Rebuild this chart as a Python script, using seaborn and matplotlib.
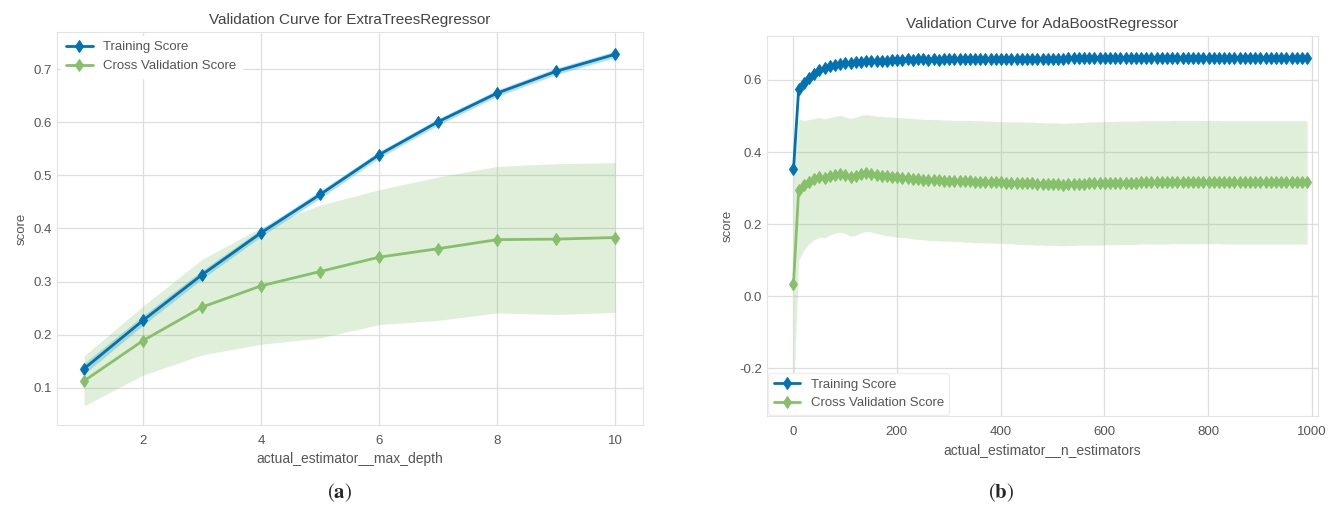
import numpy as np
import pandas as pd
import seaborn as sns
import matplotlib.pyplot as plt

# ---- (a) ExtraTreesRegressor, max_depth ----
depth = [1, 2, 3, 4, 5, 6, 7, 8, 9, 10]
et_train = [0.136, 0.227, 0.313, 0.392, 0.464, 0.539, 0.601, 0.655, 0.696, 0.728]
et_train_sd = [0.010, 0.009, 0.008, 0.007, 0.007, 0.006, 0.006, 0.006, 0.006, 0.006]
et_cv = [0.113, 0.189, 0.252, 0.292, 0.319, 0.346, 0.362, 0.379, 0.380, 0.383]
et_cv_sd = [0.047, 0.065, 0.090, 0.110, 0.125, 0.127, 0.135, 0.138, 0.142, 0.141]

# ---- (b) AdaBoostRegressor, n_estimators ----
n_est = np.arange(1, 1000, 10)
ada_train = [
    0.352, 0.575, 0.592, 0.606, 0.618, 0.627, 0.633, 0.638, 0.642, 0.645,
    0.647, 0.648, 0.650, 0.651, 0.652, 0.652, 0.653, 0.654, 0.654, 0.655,
    0.656, 0.656, 0.657, 0.656, 0.657, 0.657, 0.656, 0.657, 0.656, 0.657,
    0.657, 0.657, 0.658, 0.657, 0.657, 0.658, 0.658, 0.657, 0.658, 0.658,
    0.658, 0.657, 0.658, 0.658, 0.658, 0.658, 0.657, 0.658, 0.658, 0.658,
    0.659, 0.659, 0.659, 0.660, 0.660, 0.660, 0.660, 0.660, 0.661, 0.661,
    0.661, 0.661, 0.661, 0.661, 0.661, 0.661, 0.661, 0.661, 0.661, 0.661,
    0.661, 0.661, 0.661, 0.661, 0.661, 0.661, 0.662, 0.662, 0.662, 0.662,
    0.662, 0.662, 0.662, 0.662, 0.662, 0.662, 0.662, 0.662, 0.662, 0.662,
    0.662, 0.662, 0.662, 0.662, 0.662, 0.662, 0.662, 0.662, 0.662, 0.662,
]
ada_train_sd = [0.015] + [0.006] * 99
ada_cv = [
    0.035, 0.296, 0.308, 0.318, 0.325, 0.330, 0.327, 0.333, 0.337, 0.340,
    0.336, 0.330, 0.333, 0.339, 0.342, 0.340, 0.337, 0.335, 0.333, 0.332,
    0.330, 0.329, 0.328, 0.326, 0.325, 0.324, 0.323, 0.322, 0.322, 0.321,
    0.321, 0.320, 0.320, 0.319, 0.319, 0.318, 0.318, 0.317, 0.317, 0.316,
    0.316, 0.315, 0.315, 0.314, 0.314, 0.313, 0.313, 0.312, 0.312, 0.311,
    0.311, 0.311, 0.310, 0.311, 0.311, 0.312, 0.312, 0.313, 0.313, 0.313,
    0.314, 0.314, 0.314, 0.315, 0.315, 0.315, 0.315, 0.316, 0.316, 0.316,
    0.316, 0.316, 0.316, 0.317, 0.317, 0.317, 0.317, 0.317, 0.317, 0.317,
    0.317, 0.317, 0.317, 0.316, 0.316, 0.316, 0.316, 0.316, 0.316, 0.316,
    0.316, 0.316, 0.316, 0.316, 0.316, 0.316, 0.316, 0.316, 0.316, 0.316,
]
ada_cv_sd = [
    0.319, 0.195, 0.180, 0.172, 0.168, 0.166, 0.165, 0.163, 0.162, 0.162,
    0.162, 0.163, 0.164, 0.163, 0.162, 0.162, 0.163, 0.164, 0.165, 0.165,
    0.166, 0.166, 0.166, 0.167, 0.167, 0.167, 0.168, 0.168, 0.168, 0.168,
    0.168, 0.168, 0.168, 0.169, 0.169, 0.169, 0.169, 0.169, 0.169, 0.169,
    0.169, 0.169, 0.169, 0.170, 0.170, 0.170, 0.170, 0.170, 0.170, 0.170,
    0.170, 0.170, 0.170, 0.170, 0.170, 0.170, 0.170, 0.171, 0.171, 0.171,
    0.171, 0.171, 0.171, 0.171, 0.171, 0.171, 0.171, 0.171, 0.171, 0.171,
    0.171, 0.171, 0.171, 0.171, 0.171, 0.171, 0.171, 0.171, 0.171, 0.171,
    0.171, 0.171, 0.171, 0.171, 0.171, 0.171, 0.171, 0.171, 0.171, 0.171,
    0.171, 0.171, 0.171, 0.171, 0.171, 0.171, 0.171, 0.171, 0.171, 0.171,
]

BLUE = "#0072B2"
GREEN = "#86C06A"
TXT = "#555555"

sns.set_style("whitegrid", {"grid.color": "#dedede", "axes.edgecolor": "#e3e3e3"})
plt.rcParams["font.family"] = ["Liberation Sans", "DejaVu Sans"]
plt.rcParams["axes.unicode_minus"] = False
plt.rcParams["mathtext.fontset"] = "stix"


def draw_curve(ax, x, tr, tr_sd, cv, cv_sd, title, xlabel, ms=6):
    tr, tr_sd, cv, cv_sd = map(np.asarray, (tr, tr_sd, cv, cv_sd))
    df = pd.DataFrame({"x": x, "train": tr, "cv": cv})
    ax.fill_between(x, tr - tr_sd, tr + tr_sd, color="#56B4E9", alpha=0.45, lw=0)
    ax.fill_between(x, cv - cv_sd, cv + cv_sd, color=GREEN, alpha=0.25, lw=0)
    sns.lineplot(data=df, x="x", y="train", ax=ax, color=BLUE, lw=2, marker="d",
                 markersize=ms, markeredgecolor=BLUE, label="Training Score")
    sns.lineplot(data=df, x="x", y="cv", ax=ax, color=GREEN, lw=2, marker="d",
                 markersize=ms, markeredgecolor=GREEN, label="Cross Validation Score")
    ax.set_title(title, fontsize=11, color="#444444", pad=6)
    ax.set_xlabel(xlabel, fontsize=10, color=TXT, labelpad=4)
    ax.set_ylabel("score", fontsize=9.5, color=TXT)
    ax.tick_params(labelsize=9.5, labelcolor=TXT, length=0)
    ax.tick_params(axis="x", pad=7)
    ax.grid(True, lw=0.9)
    for s in ax.spines.values():
        s.set_color("#e3e3e3")


fig = plt.figure(figsize=(13.37, 5.16), dpi=100)
ax1 = fig.add_axes([0.0426, 0.1764, 0.4383, 0.7616])
ax2 = fig.add_axes([0.5737, 0.1938, 0.4121, 0.7364])

draw_curve(ax1, depth, et_train, et_train_sd, et_cv, et_cv_sd,
           "Validation Curve for ExtraTreesRegressor", "actual_estimator__max_depth")
ax1.set_ylim(0.03, 0.77)
ax1.set_xlim(0.54, 10.47)
ax1.set_xticks([2, 4, 6, 8, 10])
ax1.legend(loc="upper left", fontsize=9.5, frameon=True, facecolor="white",
           edgecolor="white", framealpha=1, labelcolor=TXT, borderaxespad=0.3)

draw_curve(ax2, n_est, ada_train, ada_train_sd, ada_cv, ada_cv_sd,
           "Validation Curve for AdaBoostRegressor", "actual_estimator__n_estimators", ms=6.5)
ax2.set_ylim(-0.332, 0.722)
ax2.set_xlim(-50, 1012)
ax2.set_xticks([0, 200, 400, 600, 800, 1000])
ax2.set_yticks([-0.2, 0.0, 0.2, 0.4, 0.6])
ax2.legend(loc="lower left", fontsize=9.5, frameon=True, facecolor="white",
           edgecolor="#eeeeee", framealpha=1, labelcolor=TXT, borderaxespad=0.1)

fig.text(0.254, 0.045, r"$(\mathbf{a})$", fontsize=15, ha="center", va="center")
fig.text(0.749, 0.045, r"$(\mathbf{b})$", fontsize=15, ha="center", va="center")

fig.savefig("out.png", dpi=100, facecolor="white")
